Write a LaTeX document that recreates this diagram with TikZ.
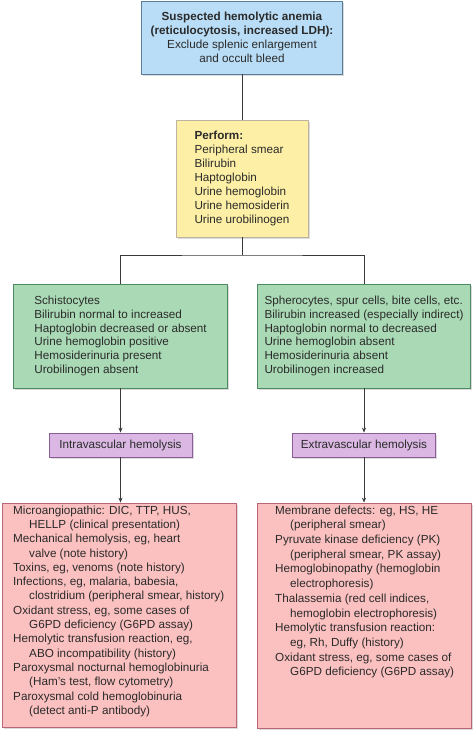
\documentclass[tikz,border=0pt]{standalone}
\usepackage{fontspec}
\setmainfont{Liberation Sans}
\usetikzlibrary{shadows,arrows.meta}
\definecolor{bluef}{HTML}{B9DDF6}
\definecolor{blueb}{HTML}{5B7D9C}
\definecolor{yelf}{HTML}{FDF0A6}
\definecolor{yelb}{HTML}{BDB3A0}
\definecolor{grnf}{HTML}{AADAB5}
\definecolor{grnb}{HTML}{4D8A63}
\definecolor{purf}{HTML}{DAB8E3}
\definecolor{purb}{HTML}{8C5C96}
\definecolor{pnkf}{HTML}{FBC1C0}
\definecolor{pnkb}{HTML}{B86578}
\definecolor{txtc}{HTML}{2A2A2A}
\definecolor{linec}{HTML}{3A3A3A}
\begin{document}
\begin{tikzpicture}[x=1pt,y=-1pt,
  box/.style={draw, line width=0.8pt, inner sep=0pt, text=txtc, align=left,
    font=\fontsize{11.7}{13.9}\selectfont,
    drop shadow={shadow xshift=1.5pt,shadow yshift=-1.5pt,opacity=0.35,fill=black!40}},
  txt/.style={text=txtc, align=left, inner sep=0pt},
  line/.style={draw=linec, line width=0.8pt},
  arr/.style={line, -{Stealth[length=5pt,width=4pt]}}]
\useasboundingbox (0,0) rectangle (474,732);

\node[box, fill=bluef, draw=blueb, minimum width=201pt, minimum height=73pt, align=center] (top) at (242,37.5)
 {\textbf{Suspected hemolytic anemia}\\\textbf{(reticulocytosis, increased LDH):}\\Exclude splenic enlargement\\and occult bleed};

\node[box, fill=yelf, draw=yelb, minimum width=132pt, minimum height=117pt] (yel) at (242,178.5)
 {\textbf{Perform:}\\Peripheral smear\\Bilirubin\\Haptoglobin\\Urine hemoglobin\\Urine hemosiderin\\Urine urobilinogen};

\node[box, fill=grnf, draw=grnb, minimum width=214pt, minimum height=104pt] (gL) at (120.5,336)
 {Schistocytes\\Bilirubin normal to increased\\Haptoglobin decreased or absent\\Urine hemoglobin positive\\Hemosiderinuria present\\Urobilinogen absent};

\node[box, fill=grnf, draw=grnb, minimum width=213pt, minimum height=104pt] (gR) at (364,336)
 {Spherocytes, spur cells, bite cells, etc.\\Bilirubin increased (especially indirect)\\Haptoglobin normal to decreased\\Urine hemoglobin absent\\Hemosiderinuria absent\\Urobilinogen increased};

\node[box, fill=purf, draw=purb, minimum width=143pt, minimum height=24pt] (vL) at (120.5,445) {Intravascular hemolysis};
\node[box, fill=purf, draw=purb, minimum width=143pt, minimum height=24pt] (vR) at (364,445) {Extravascular hemolysis};

\node[box, fill=pnkf, draw=pnkb, minimum width=234pt, minimum height=224pt] (pL) at (119,615) {};
\node[box, fill=pnkf, draw=pnkb, minimum width=214pt, minimum height=225pt] (pR) at (364,615.5) {};

\node[txt, anchor=north west, font=\fontsize{11.7}{14.3}\selectfont] (pLt) at (13,505.5)
 {Microangiopathic: DIC, TTP, HUS,\\
  \hspace*{16pt}HELLP (clinical presentation)\\
  Mechanical hemolysis, eg, heart\\
  \hspace*{16pt}valve (note history)\\
  Toxins, eg, venoms (note history)\\
  Infections, eg, malaria, babesia,\\
  \hspace*{16pt}clostridium (peripheral smear, history)\\
  Oxidant stress, eg, some cases of\\
  \hspace*{16pt}G6PD deficiency (G6PD assay)\\
  Hemolytic transfusion reaction, eg,\\
  \hspace*{16pt}ABO incompatibility (history)\\
  Paroxysmal nocturnal hemoglobinuria\\
  \hspace*{16pt}(Ham's test, flow cytometry)\\
  Paroxysmal cold hemoglobinuria\\
  \hspace*{16pt}(detect anti-P antibody)};

\node[txt, anchor=north west, font=\fontsize{11.7}{14.7}\selectfont] (pRt) at (275,505.5)
 {Membrane defects: eg, HS, HE\\
  \hspace*{15pt}(peripheral smear)\\
  Pyruvate kinase deficiency (PK)\\
  \hspace*{15pt}(peripheral smear, PK assay)\\
  Hemoglobinopathy (hemoglobin\\
  \hspace*{15pt}electrophoresis)\\
  Thalassemia (red cell indices,\\
  \hspace*{15pt}hemoglobin electrophoresis)\\
  Hemolytic transfusion reaction:\\
  \hspace*{15pt}eg, Rh, Duffy (history)\\
  Oxidant stress, eg, some cases of\\
  \hspace*{15pt}G6PD deficiency (G6PD assay)};

\coordinate (bus) at (242,255);
\draw[line] (top) -- (yel);
\draw[line] (yel.south) -- (bus);
\draw[line] (gL.north) |- (bus) -| (gR.north);
\draw[arr] (gL.south) -- (vL.north);
\draw[arr] (gR.south) -- (vR.north);
\draw[arr] (vL.south) -- (vL.south |- pL.north);
\draw[arr] (vR.south) -- (pR.north);
\end{tikzpicture}
\end{document}
